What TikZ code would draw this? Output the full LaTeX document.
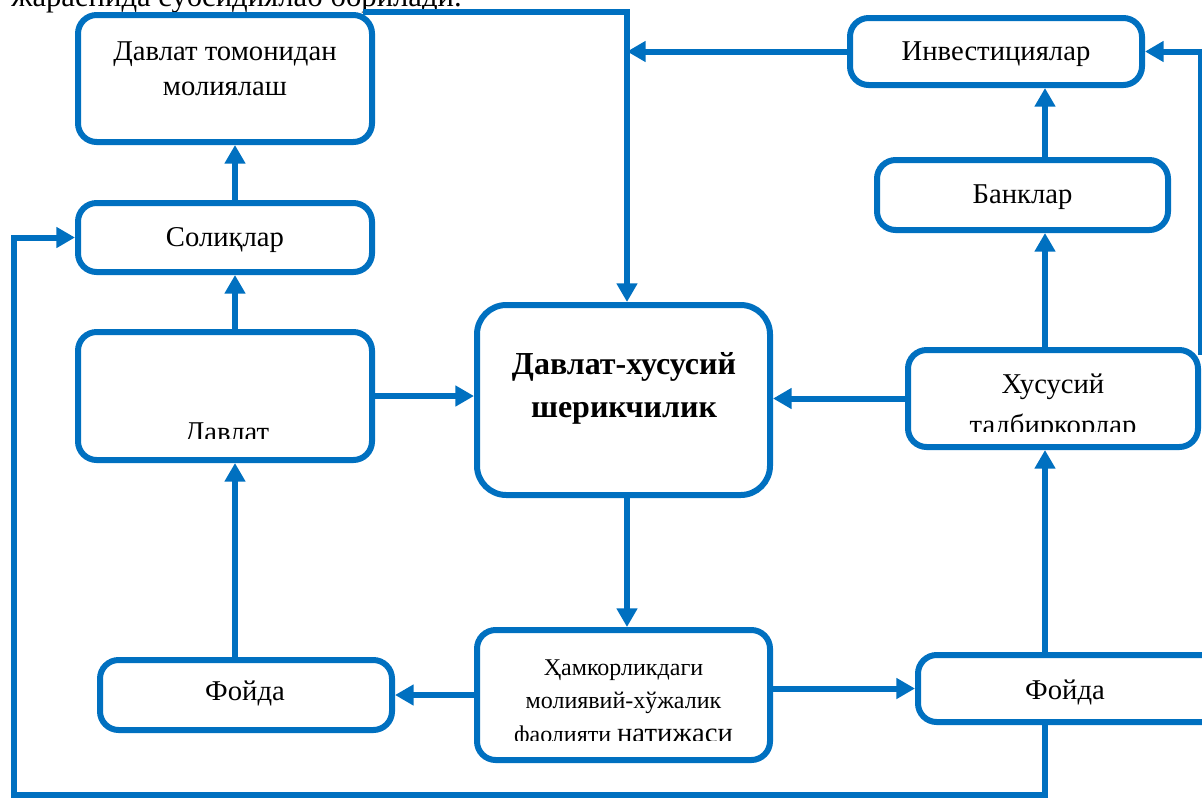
\documentclass[tikz,border=0pt]{standalone}
\usepackage{fontspec}
\setmainfont{Liberation Serif}
\usetikzlibrary{arrows.meta,calc}
\definecolor{bl}{HTML}{0070C0}
\begin{document}
\begin{tikzpicture}[x=0.75pt,y=-0.75pt,
  box/.style={draw=bl, line width=4.5pt, rounded corners=14pt, inner sep=0pt},
  arr/.style={draw=bl, line width=4.5pt, -{Triangle[length=14pt,width=15pt]}},
  txt/.style={font=\fontsize{21.5}{26}\selectfont, inner sep=0pt, anchor=base},
  btxt/.style={font=\fontsize{24}{28}\selectfont\bfseries, inner sep=0pt, anchor=base},
  stxt/.style={font=\fontsize{18}{22}\selectfont, inner sep=0pt, anchor=base}]
\useasboundingbox (0,0) rectangle (1202,797);

% clipped heading text
\begin{scope}
\clip (0,0) rectangle (1202,797);
\node[txt, font=\fontsize{23}{27}\selectfont, anchor=base east] (head) at (462,6) {жараёнида субсидиялаб борилади.};
\end{scope}

% boxes
\node[box, minimum width=220.5pt, minimum height=95.25pt] (dtm) at (225,78.5) {};
\node[box, minimum width=220.5pt, minimum height=51.75pt] (sol) at (225,237.5) {};
\node[box, minimum width=220.5pt, minimum height=96pt] (dav) at (225,396) {};
\node[box, rounded corners=22pt, minimum width=219.75pt, minimum height=142.5pt] (ppp) at (623.5,400) {};
\node[box, minimum width=219.75pt, minimum height=97.5pt] (ham) at (623.5,695) {};
\node[box, minimum width=219pt, minimum height=52.5pt] (fl) at (246,695) {};
\node[box, minimum width=234pt, minimum height=50.25pt] (fr) at (1074,688.5) {};
\node[box, minimum width=217.5pt, minimum height=72.75pt] (hus) at (1053,398.5) {};
\node[box, minimum width=218.25pt, minimum height=52.5pt] (ban) at (1022.5,195) {};
\node[box, minimum width=219pt, minimum height=50.25pt] (inv) at (996,51.5) {};

% texts
\node[txt] (t1) at (225,60) {Давлат томонидан};
\node[txt] (t2) at (225,95) {молиялаш};
\node[txt] (t3) at (225,246) {Солиқлар};
\begin{scope}
\clip (90,340) rectangle (360,438);
\node[txt] (t4) at (227,441) {Давлат};
\end{scope}
\node[btxt] (t5) at (624,374) {Давлат-хусусий};
\node[btxt] (t6) at (624,417) {шерикчилик};
\node[stxt] (t7) at (623.5,675) {Ҳамкорликдаги};
\node[stxt] (t8) at (623.5,708) {молиявий-хўжалик};
\begin{scope}
\clip (485,640) rectangle (765,740);
\node[stxt] (t9) at (623.5,742) {фаолияти \fontsize{21.5}{26}\selectfont натижаси};
\end{scope}
\node[txt] (t10) at (245,700) {Фойда};
\node[txt] (t11) at (1065,699) {Фойда};
\node[txt] (t12) at (1053,393) {Хусусий};
\begin{scope}
\clip (915,360) rectangle (1190,431);
\node[txt] (t13) at (1053,434) {тадбиркорлар};
\end{scope}
\node[txt] (t14) at (1022.5,203) {Банклар};
\node[txt] (t15) at (996,60) {Инвестициялар};

% column coordinates
\coordinate (cx) at (235,0);
\coordinate (mx) at (627,0);
\coordinate (rx) at (1045,0);

% connectors
\draw[arr] (sol.north -| cx) -- (dtm.south -| cx);
\draw[arr] (dav.north -| cx) -- (sol.south -| cx);
\draw[arr] (fl.north -| cx) -- (dav.south -| cx);
\draw[arr] (dav.east) -- (ppp.west |- dav.east);
\draw[arr] (ppp.south -| mx) -- (ham.north -| mx);
\draw[arr] (ham.west) -- (fl.east);
\draw[arr] (ham.east |- fr.west) -- (fr.west);
\draw[arr] (fr.north -| rx) -- (hus.south -| rx);
\draw[arr] (hus.west) -- (ppp.east |- hus.west);
\draw[arr] (hus.north -| rx) -- (ban.south -| rx);
\draw[arr] (ban.north -| rx) -- (inv.south -| rx);
\draw[arr] ([yshift=-6pt]hus.north east) |- (inv.east);
\draw[arr] ([xshift=-9pt]dtm.north east) -| (ppp.north -| mx);
\draw[arr] (inv.west) -- (inv.west -| mx);
\draw[arr] (fr.south -| rx) |- (14,795) |- (sol.west);
\end{tikzpicture}
\end{document}
